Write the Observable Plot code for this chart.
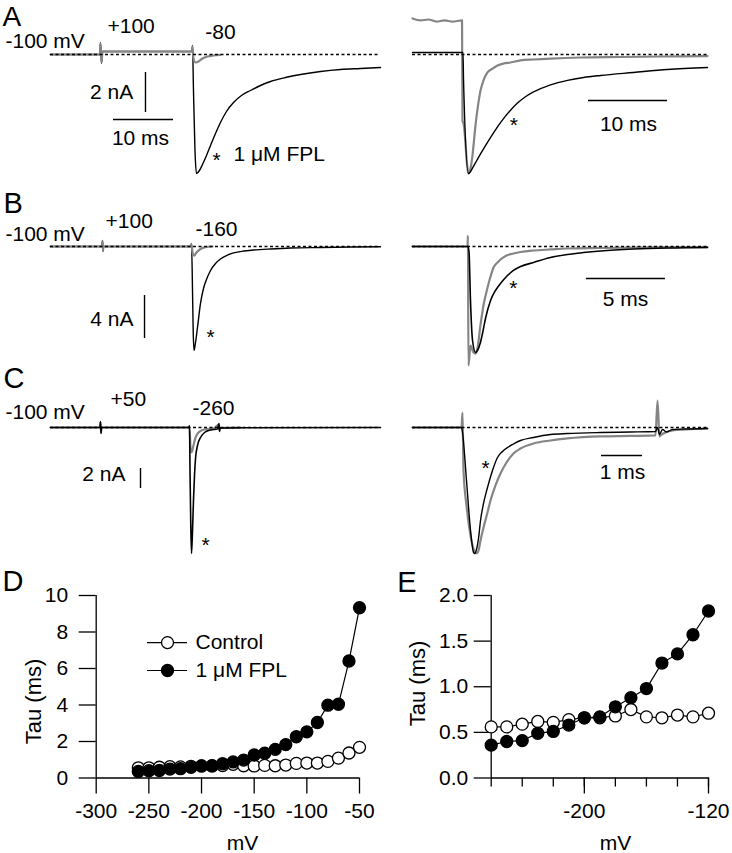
<!DOCTYPE html>
<html><head><meta charset="utf-8">
<script src="https://cdn.jsdelivr.net/npm/d3@7"></script>
<script src="https://cdn.jsdelivr.net/npm/@observablehq/plot@0.6"></script>
<style>
body{margin:0;background:#fff;}
#fig{position:relative;width:732px;height:853px;background:#fff;overflow:hidden;}
#fig svg{position:absolute;}
</style></head><body><div id="fig"></div>
<script>
const FONT = '"Liberation Sans", Arial, Helvetica, sans-serif';
const GRAY = "#858585";

// ---------- Traces: [time (ms), current] ----------
// A: step -100 -> +100 -> -80 mV (nA)
const A_left_fpl = [[0,0],[8.25,0],[8.33,0.6],[8.5,-0.45],[8.67,0.15],[23.58,0.15],[23.67,0.45],[23.83,-1.8],[24.08,-4.8],[24.33,-5.95],[24.83,-5.8],[25.33,-5.5],[26,-5.05],[26.67,-4.55],[27.5,-3.95],[28.33,-3.4],[29.33,-2.85],[30.5,-2.4],[31.83,-2.05],[33.33,-1.8],[35,-1.55],[36.67,-1.35],[39.17,-1.15],[41.67,-1.0],[45,-0.85],[48.33,-0.75],[51.67,-0.7],[55,-0.65]];
const A_left_ctrl = [[0,0],[8.25,0],[8.33,0.55],[8.5,-0.4],[8.67,0.15],[23.58,0.15],[23.67,0.4],[23.83,-0.2],[24.17,-0.4],[24.67,-0.35],[25.33,-0.2],[26.17,-0.1],[27.17,-0.05],[28.33,-0.02]];
// A right: normalized
const A_right_fpl = [[0,0.017],[6.39,0.017],[6.46,-0.218],[7.09,-1.0],[7.34,-0.985],[7.59,-0.955],[8.10,-0.895],[8.61,-0.835],[9.24,-0.765],[9.87,-0.698],[10.51,-0.633],[11.14,-0.573],[11.77,-0.518],[12.41,-0.468],[13.29,-0.408],[14.30,-0.355],[15.32,-0.315],[17.47,-0.255],[19.62,-0.217],[21.65,-0.193],[23.80,-0.176],[27.97,-0.151],[32.28,-0.126],[37.34,-0.109]];
const A_right_ctrl = [[0,0.303],[1.01,0.286],[2.03,0.294],[3.04,0.277],[4.05,0.286],[5.06,0.277],[6.27,0.286],[6.33,-0.555],[6.46,-0.58],[7.09,-1.0],[7.34,-0.958],[7.59,-0.849],[7.97,-0.597],[8.35,-0.403],[8.61,-0.303],[8.99,-0.218],[9.49,-0.151],[10.13,-0.118],[10.76,-0.092],[11.52,-0.076],[12.41,-0.067],[13.67,-0.05],[15.32,-0.042],[17.47,-0.034],[21.27,-0.025],[26.33,-0.021],[31.39,-0.017],[37.34,-0.013]];
// B: step -100 -> +100 -> -160 mV
const B_left_fpl = [[0,0],[8.58,0],[8.67,0.56],[8.75,-0.47],[8.83,0],[23.42,0],[23.5,0.28],[23.67,-4.09],[23.78,-7.81],[23.92,-9.67],[24.17,-8.93],[24.5,-7.53],[25,-5.3],[25.5,-3.91],[26,-3.07],[26.67,-2.23],[27.5,-1.58],[28.33,-1.16],[29.33,-0.84],[30.5,-0.6],[32.17,-0.42],[33.83,-0.33],[36.67,-0.23],[40,-0.14],[45,-0.09],[50,-0.05],[55,-0.02]];
const B_left_ctrl = [[0,0],[8.58,0],[8.67,0.47],[8.75,-0.37],[8.83,0],[23.42,0],[23.5,0.19],[23.67,-0.56],[23.92,-0.84],[24.33,-0.56],[25,-0.23],[25.83,-0.05],[27,0]];
const B_right_fpl = [[0,0],[3.51,0],[3.58,-0.057],[3.67,-0.509],[3.80,-0.887],[3.99,-1.0],[4.11,-0.981],[4.30,-0.906],[4.43,-0.821],[4.62,-0.679],[4.94,-0.509],[5.25,-0.415],[5.57,-0.349],[5.95,-0.283],[6.39,-0.226],[6.84,-0.189],[7.66,-0.151],[8.73,-0.104],[9.81,-0.075],[10.82,-0.057],[11.90,-0.042],[13.99,-0.024],[16.14,-0.014],[18.67,-0.009]];
const B_right_ctrl = [[0,0],[3.48,0],[3.51,0.104],[3.54,-1.123],[3.67,-0.934],[3.86,-1.0],[3.99,-1.01],[4.11,-0.962],[4.30,-0.745],[4.49,-0.557],[4.75,-0.387],[4.94,-0.283],[5.13,-0.198],[5.38,-0.151],[5.57,-0.123],[5.95,-0.085],[6.39,-0.066],[6.84,-0.052],[7.66,-0.038],[8.73,-0.028],[9.81,-0.019],[11.90,-0.014],[15.06,-0.009],[18.67,-0.005]];
// C: step -100 -> +50 -> -260 mV
const C_left_fpl = [[0,0],[8.25,0],[8.33,0.6],[8.42,-0.6],[8.5,0],[23.08,0],[23.17,0.2],[23.25,-4.3],[23.37,-9.3],[23.5,-12.6],[23.67,-10.3],[23.83,-7.3],[24,-4.8],[24.17,-3.1],[24.5,-1.8],[25,-1.0],[25.67,-0.5],[26.67,-0.25],[27.83,-0.15],[28.08,0.4],[28.17,-0.4],[28.25,-0.05],[31.67,-0.03],[55,0]];
const C_left_ctrl = [[0,0],[8.25,0],[8.33,0.5],[8.42,-0.5],[8.5,0],[23.08,0],[23.17,0.1],[23.33,-2.0],[23.5,-2.5],[23.83,-1.8],[24.17,-1.0],[24.67,-0.5],[25.33,-0.25],[26.17,-0.15],[27.17,-0.1],[28.08,0.3],[28.17,-0.3],[28.25,-0.05],[31.67,-0.02]];
const C_right_fpl = [[0,0],[1.195,0],[1.22,-0.04],[1.317,-0.421],[1.415,-0.817],[1.488,-0.992],[1.512,-1.0],[1.561,-0.968],[1.61,-0.881],[1.659,-0.738],[1.732,-0.603],[1.829,-0.476],[1.951,-0.341],[2.073,-0.238],[2.195,-0.19],[2.317,-0.159],[2.463,-0.131],[2.634,-0.103],[2.951,-0.079],[3.366,-0.056],[3.78,-0.048],[4.585,-0.04],[5.317,-0.036],[5.927,-0.032],[5.976,0],[6.024,-0.056],[6.098,-0.016],[6.195,-0.036],[6.341,-0.016],[6.659,-0.012],[7.195,-0.008]];
const C_right_ctrl = [[0,0],[1.195,0],[1.22,0.119],[1.244,-0.341],[1.317,-0.619],[1.415,-0.857],[1.512,-0.984],[1.561,-1.0],[1.61,-0.976],[1.659,-0.897],[1.732,-0.794],[1.829,-0.675],[1.902,-0.579],[2.024,-0.46],[2.146,-0.365],[2.293,-0.278],[2.463,-0.206],[2.634,-0.167],[2.951,-0.127],[3.366,-0.103],[3.78,-0.087],[4.585,-0.071],[5.317,-0.067],[5.927,-0.063],[5.976,0.214],[6.024,-0.071],[6.073,-0.056],[6.171,-0.04],[6.341,-0.024],[6.659,-0.016],[7.195,-0.008]];

// ---------- D / E: tau vs voltage ----------
const voltages = [-260,-250,-240,-230,-220,-210,-200,-190,-180,-170,-160,-150,-140,-130,-120,-110,-100,-90,-80,-70,-60,-50];
const tauControl = [0.56,0.56,0.59,0.62,0.61,0.64,0.66,0.66,0.68,0.75,0.67,0.66,0.69,0.67,0.71,0.80,0.82,0.82,0.91,1.09,1.37,1.68];
const tauFPL = [0.36,0.40,0.41,0.49,0.51,0.58,0.66,0.67,0.78,0.88,0.98,1.26,1.36,1.57,1.83,2.26,2.53,3.04,3.99,4.04,6.41,9.33];
const seriesNames = ["Control", "1 μM FPL"];
const ticksD_x = [-300,-250,-200,-150,-100,-50];
const ticksD_y = [0,2,4,6,8,10];
const ticksE_minor = [-260,-240,-220,-200,-180,-160,-140,-120];
const ticksE_major = [-200,-120];
const ticksE_y = [0,0.5,1,1.5,2];

const fig = document.getElementById("fig");
const baseStyle = {background:"transparent", overflow:"visible", fontFamily:FONT, fontSize:"21px", color:"black"};

function place(svg, left, top) {
  svg.style.left = left + "px"; svg.style.top = top + "px";
  fig.append(svg);
}
function labelMarks(labels) {
  return labels.map(l => Plot.text([l], {x:"t", y:"v", text:"text", textAnchor:l.anchor || "start", lineAnchor:"middle", fontSize:l.size || 21, fill:"black"}));
}
function tracePanel(cfg, traces, dash, bars, labels) {
  const {left, top, width, height, x0, kx, y0, ky} = cfg;
  const xd = [(left - x0) / kx, (left + width - x0) / kx];
  const yd = [(y0 - top - height) / ky, (y0 - top) / ky];
  const marks = [];
  for (const tr of traces) marks.push(Plot.line(tr.data, {x:d=>d[0], y:d=>d[1], stroke:tr.color, strokeWidth:tr.w, curve:"monotone-x"}));
  marks.push(Plot.ruleY([dash], {y:"v", x1:"t1", x2:"t2", stroke:"black", strokeWidth:1.3, strokeDasharray:"3,2.5"}));
  for (const b of bars) {
    if (b.kind === "v") marks.push(Plot.ruleX([b], {x:"t", y1:"v1", y2:"v2", stroke:"black", strokeWidth:1.4}));
    else marks.push(Plot.ruleY([b], {y:"v", x1:"t1", x2:"t2", stroke:"black", strokeWidth:1.4}));
  }
  marks.push(...labelMarks(labels));
  const svg = Plot.plot({width, height, margin:0, x:{domain:xd, axis:null}, y:{domain:yd, axis:null}, style:baseStyle, marks});
  place(svg, left, top);
}

// A left
tracePanel({left:0, top:0, width:400, height:185, x0:50, kx:6, y0:54, ky:20},
  [{data:A_left_fpl, color:"black", w:1.4}, {data:A_left_ctrl, color:GRAY, w:2.2}],
  {v:0, t1:0, t2:55},
  [{kind:"v", t:15.83, v1:-0.9, v2:-2.9}, {kind:"h", v:-3.25, t1:10.5, t2:20.5}],
  [{t:-8.0, v:1.85, text:"A", size:28}, {t:-7.5, v:0.65, text:"-100 mV"}, {t:9.5, v:1.4, text:"+100"}, {t:25.8, v:1.1, text:"-80"},
   {t:13.8, v:-1.9, text:"2 nA", anchor:"end"}, {t:15, v:-4.2, text:"10 ms", anchor:"middle"},
   {t:27.7, v:-5.3, text:"*", anchor:"middle"}, {t:30.5, v:-5.0, text:"1 μM FPL"}]);
// A right
tracePanel({left:400, top:0, width:332, height:185, x0:412, kx:7.9, y0:54, ky:119},
  [{data:A_right_ctrl, color:GRAY, w:2.2}, {data:A_right_fpl, color:"black", w:1.4}],
  {v:0, t1:0, t2:37.34},
  [{kind:"h", v:-0.387, t1:22.28, t2:32.28}],
  [{t:12.82, v:-0.597, text:"*", anchor:"middle"}, {t:27.34, v:-0.588, text:"10 ms", anchor:"middle"}]);
// B left
tracePanel({left:0, top:185, width:400, height:175, x0:50, kx:6, y0:246, ky:10.75},
  [{data:B_left_fpl, color:"black", w:1.4}, {data:B_left_ctrl, color:GRAY, w:2.2}],
  {v:0, t1:0, t2:55},
  [{kind:"v", t:15.67, v1:-4.56, v2:-8.56}],
  [{t:-7.83, v:4.0, text:"B", size:29}, {t:-7.5, v:1.16, text:"-100 mV"}, {t:9.17, v:2.33, text:"+100"}, {t:24.17, v:1.58, text:"-160"},
   {t:13.83, v:-6.74, text:"4 nA", anchor:"end"}, {t:26.67, v:-8.47, text:"*", anchor:"middle"}]);
// B right
tracePanel({left:400, top:185, width:332, height:180, x0:412, kx:15.8, y0:246, ky:106},
  [{data:B_right_ctrl, color:GRAY, w:2.2}, {data:B_right_fpl, color:"black", w:1.6}],
  {v:0, t1:0, t2:18.67},
  [{kind:"h", v:-0.302, t1:11.01, t2:16.01}],
  [{t:6.39, v:-0.396, text:"*", anchor:"middle"}, {t:13.48, v:-0.5, text:"5 ms", anchor:"middle"}]);
// C left
tracePanel({left:0, top:360, width:400, height:210, x0:50, kx:6, y0:427, ky:10},
  [{data:C_left_ctrl, color:GRAY, w:2.2}, {data:C_left_fpl, color:"black", w:1.6}],
  {v:0, t1:0, t2:55},
  [{kind:"v", t:15, v1:-4.1, v2:-6.1}],
  [{t:-7.83, v:4.9, text:"C", size:29}, {t:-7.5, v:1.5, text:"-100 mV"}, {t:10, v:2.8, text:"+50"}, {t:23.67, v:1.9, text:"-260"},
   {t:12.5, v:-4.65, text:"2 nA", anchor:"end"}, {t:25.83, v:-11.8, text:"*", anchor:"middle"}]);
// C right
tracePanel({left:400, top:365, width:332, height:205, x0:412, kx:41, y0:427, ky:126},
  [{data:C_right_ctrl, color:GRAY, w:2.2}, {data:C_right_fpl, color:"black", w:1.4}],
  {v:0, t1:0, t2:7.195},
  [{kind:"h", v:-0.222, t1:4.61, t2:5.61}],
  [{t:1.78, v:-0.325, text:"*", anchor:"middle"}, {t:5.12, v:-0.357, text:"1 ms", anchor:"middle"}]);

// ---------- D ----------
const tauData = voltages.map((v, i) => ({mV:v, ctrl:tauControl[i], fpl:tauFPL[i]}));
const legendD = [{name:seriesNames[0], y:7.42, fill:"white"}, {name:seriesNames[1], y:5.89, fill:"black"}];
function tauMarks(data) {
  return [
    Plot.line(data, {x:"mV", y:"ctrl", stroke:"black", strokeWidth:1.2}),
    Plot.dot(data, {x:"mV", y:"ctrl", r:6, fill:"white", stroke:"black", strokeWidth:1.3}),
    Plot.line(data, {x:"mV", y:"fpl", stroke:"black", strokeWidth:1.2}),
    Plot.dot(data, {x:"mV", y:"fpl", r:6, fill:"black", stroke:"black", strokeWidth:1.3})
  ];
}
const svgD = Plot.plot({
  width:370, height:283, marginLeft:95.7, marginRight:11, marginTop:25, marginBottom:75.5,
  style:baseStyle,
  x:{domain:[-300,-50]}, y:{domain:[0,10]},
  marks:[
    Plot.axisX(ticksD_x, {tickSize:16, tickPadding:9, tickFormat:d=>String(d), label:null, strokeWidth:1.3, fontSize:21}),
    Plot.axisY(ticksD_y, {tickSize:17, tickPadding:11, tickFormat:d=>String(d), label:null, strokeWidth:1.3, fontSize:21}),
    Plot.ruleY([0], {x1:-300, x2:-50, strokeWidth:1.3}),
    Plot.ruleX([-300], {y1:0, y2:10, strokeWidth:1.3}),
    ...tauMarks(tauData),
    Plot.ruleY(legendD, {y:"y", x1:-251.3, x2:-213.3, stroke:"black", strokeWidth:1.2}),
    Plot.dot(legendD, {x:-232.3, y:"y", r:6, fill:"fill", stroke:"black", strokeWidth:1.3}),
    Plot.text(legendD, {x:-205.7, y:"y", text:"name", textAnchor:"start", lineAnchor:"middle", fontSize:21}),
    Plot.text(["Tau (ms)"], {text:d=>d, frameAnchor:"left", rotate:-90, dx:-62.7, dy:14.75, textAnchor:"middle", lineAnchor:"middle", fontSize:22}),
    Plot.text(["mV"], {text:d=>d, frameAnchor:"bottom", dx:14.6, dy:65.5, textAnchor:"middle", lineAnchor:"middle", fontSize:21}),
    Plot.text(["D"], {text:d=>d, frameAnchor:"top-left", dx:-93.7, dy:-14, textAnchor:"start", lineAnchor:"middle", fontSize:29})
  ]
});
place(svgD, 0, 570);

// ---------- E ----------
const tauDataE = tauData.filter(d => d.mV <= -120);
const svgE = Plot.plot({
  width:362, height:283, marginLeft:120.7, marginRight:24, marginTop:25, marginBottom:75.5,
  style:baseStyle,
  x:{domain:[-260,-120]}, y:{domain:[0,2]},
  marks:[
    Plot.axisX(ticksE_minor, {tickSize:9, text:null, label:null, strokeWidth:1.3}),
    Plot.axisX(ticksE_major, {tickSize:16, tickPadding:9, tickFormat:d=>String(d), label:null, strokeWidth:1.3, fontSize:21}),
    Plot.axisY(ticksE_y, {tickSize:17, tickPadding:6, tickFormat:d3.format(".1f"), label:null, strokeWidth:1.3, fontSize:21}),
    Plot.ruleY([0], {x1:-260, x2:-120, strokeWidth:1.3}),
    Plot.ruleX([-260], {y1:0, y2:2, strokeWidth:1.3}),
    ...tauMarks(tauDataE),
    Plot.text(["Tau (ms)"], {text:d=>d, frameAnchor:"left", rotate:-90, dx:-73.7, dy:-3.25, textAnchor:"middle", lineAnchor:"middle", fontSize:22}),
    Plot.text(["mV"], {text:d=>d, frameAnchor:"bottom", dx:15.6, dy:65.5, textAnchor:"middle", lineAnchor:"middle", fontSize:21}),
    Plot.text(["E"], {text:d=>d, frameAnchor:"top-left", dx:-74.7, dy:-13, textAnchor:"end", lineAnchor:"middle", fontSize:29})
  ]
});
place(svgE, 370, 570);
</script>
</body></html>
